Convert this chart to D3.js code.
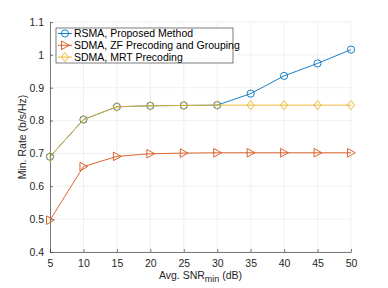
<!DOCTYPE html>
<html>
<head>
<meta charset="utf-8">
<script src="https://cdn.jsdelivr.net/npm/d3@7"></script>
<style>
body { margin: 0; background: #fff; }
text { font-family: "Liberation Sans", Arial, sans-serif; }
</style>
</head>
<body>
<svg id="chart" width="388" height="288"></svg>
<script>
// avg. SNR_min (dB)
var snr = [5, 10, 15, 20, 25, 30, 35, 40, 45, 50];
var rsma = [0.690, 0.803, 0.842, 0.845, 0.846, 0.847, 0.882, 0.936, 0.974, 1.016];
var sdmaZF = [0.497, 0.660, 0.691, 0.699, 0.701, 0.702, 0.702, 0.702, 0.702, 0.702];
var sdmaMRT = [0.690, 0.803, 0.842, 0.845, 0.846, 0.847, 0.847, 0.847, 0.847, 0.847];
var xTicks = [5, 10, 15, 20, 25, 30, 35, 40, 45, 50];
var yTicks = [0.4, 0.5, 0.6, 0.7, 0.8, 0.9, 1, 1.1];
var names = ["RSMA, Proposed Method", "SDMA, ZF Precoding and Grouping", "SDMA, MRT Precoding"];
var colors = ["#0072BD", "#D95319", "#EDB120"];
var markers = ["circle", "triangle", "diamond"];

var svg = d3.select("#chart");
var mLeft = 50, mRight = 351, mTop = 22, mBottom = 252;

var x = d3.scaleLinear().domain([5, 50]).range([mLeft, mRight]);
var y = d3.scaleLinear().domain([0.4, 1.1]).range([mBottom, mTop]);

// grid
var grid = svg.append("g").attr("stroke", "#e6e6e6").attr("stroke-width", 0.6);
grid.selectAll("line.gx").data(xTicks).enter().append("line")
    .attr("x1", function(d) { return x(d); }).attr("x2", function(d) { return x(d); })
    .attr("y1", mTop).attr("y2", mBottom);
grid.selectAll("line.gy").data(yTicks).enter().append("line")
    .attr("y1", function(d) { return y(d); }).attr("y2", function(d) { return y(d); })
    .attr("x1", mLeft).attr("x2", mRight);

// axes
var xAxis = d3.axisBottom(x).tickValues(xTicks).tickSizeInner(-3).tickSizeOuter(0).tickPadding(8);
var yAxis = d3.axisLeft(y).tickValues(yTicks).tickSizeInner(-3).tickSizeOuter(0).tickPadding(6)
    .tickFormat(function(d) { return String(+d.toFixed(1)); });

var gx = svg.append("g").attr("transform", "translate(0," + mBottom + ")").call(xAxis);
var gy = svg.append("g").attr("transform", "translate(" + mLeft + ",0)").call(yAxis);
[gx, gy].forEach(function(g) {
    g.select(".domain").attr("stroke", "#262626").attr("stroke-width", 0.6);
    g.selectAll(".tick line").attr("stroke", "#262626").attr("stroke-width", 0.6);
    g.selectAll(".tick text").attr("fill", "#262626").style("font-size", "10.5px");
});

// series
var series = [rsma, sdmaZF, sdmaMRT];
var line = d3.line()
    .x(function(d, i) { return x(snr[i]); })
    .y(function(d) { return y(d); });

function marker(g, type, cx, cy, color) {
    if (type == "circle") {
        g.append("circle").attr("cx", cx).attr("cy", cy).attr("r", 3.6)
            .attr("fill", "none").attr("stroke", color).attr("stroke-width", 0.9);
    } else if (type == "triangle") {
        g.append("path").attr("d", "M" + (cx - 3.5) + "," + (cy - 4.3) + "L" + (cx + 4.3) + "," + cy + "L" + (cx - 3.5) + "," + (cy + 4.3) + "Z")
            .attr("fill", "none").attr("stroke", color).attr("stroke-width", 0.9);
    } else {
        g.append("path").attr("d", "M" + cx + "," + (cy - 4.6) + "L" + (cx + 3.6) + "," + cy + "L" + cx + "," + (cy + 4.6) + "L" + (cx - 3.6) + "," + cy + "Z")
            .attr("fill", "none").attr("stroke", color).attr("stroke-width", 0.9);
    }
}

series.forEach(function(s, k) {
    var g = svg.append("g");
    g.append("path").datum(s).attr("d", line)
        .attr("fill", "none").attr("stroke", colors[k]).attr("stroke-width", 0.9);
    s.forEach(function(d, i) { marker(g, markers[k], x(snr[i]), y(d), colors[k]); });
});

// legend
var lg = svg.append("g");
lg.append("rect").attr("x", 56).attr("y", 28).attr("width", 177).attr("height", 35)
    .attr("fill", "#fff").attr("stroke", "#262626").attr("stroke-width", 0.6);
names.forEach(function(n, k) {
    var ly = 33.5 + k * 11.8;
    lg.append("line").attr("x1", 58).attr("x2", 72).attr("y1", ly).attr("y2", ly)
        .attr("stroke", colors[k]).attr("stroke-width", 0.9);
    marker(lg, markers[k], 65, ly, colors[k]);
    lg.append("text").attr("x", 74).attr("y", ly + 3.6).text(n)
        .attr("fill", "#000").style("font-size", "10.5px");
});

// axis labels
var xl = svg.append("text").attr("x", (mLeft + mRight) / 2).attr("y", 279)
    .attr("text-anchor", "middle").attr("fill", "#262626").style("font-size", "10.5px");
xl.append("tspan").text("Avg. SNR");
xl.append("tspan").attr("dy", 3).style("font-size", "9px").text("min");
xl.append("tspan").attr("dy", -3).text(" (dB)");

svg.append("text").attr("transform", "translate(26," + ((mTop + mBottom) / 2) + ") rotate(-90)")
    .attr("text-anchor", "middle").attr("fill", "#262626").style("font-size", "10.5px")
    .text("Min. Rate (b/s/Hz)");
</script>
</body>
</html>
